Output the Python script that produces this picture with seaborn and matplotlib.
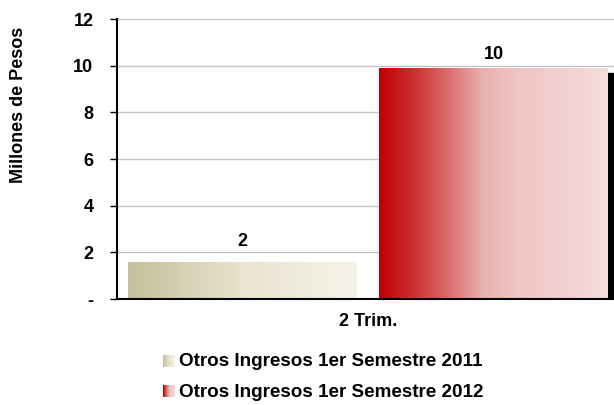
import numpy as np
import pandas as pd
import matplotlib
matplotlib.use('Agg')
import matplotlib.pyplot as plt
from matplotlib.colors import LinearSegmentedColormap
from matplotlib.patches import Rectangle
from matplotlib.legend_handler import HandlerBase
import seaborn as sns

sns.set_style('white')
plt.rcParams['font.family'] = ['Liberation Sans', 'DejaVu Sans']
plt.rcParams['font.weight'] = 'bold'
for key in ['text.color', 'axes.labelcolor', 'xtick.color', 'ytick.color']:
    plt.rcParams[key] = 'black'

# data
categories = ['2 Trim.']
series = ['Otros Ingresos 1er Semestre 2011', 'Otros Ingresos 1er Semestre 2012']
values = [1.6, 9.9]
yticks = [0, 2, 4, 6, 8, 10, 12]
ytick_labels = ['-', '2', '4', '6', '8', '10', '12']

cmaps = [
    LinearSegmentedColormap.from_list('beige', [(0, '#c5bf9b'), (0.5, '#e9e3cf'), (1, '#f5f2e8')]),
    LinearSegmentedColormap.from_list('red', [(0, '#c00000'), (0.15, '#cc3030'), (0.3, '#dc6c6c'),
                                              (0.45, '#eab0b0'), (0.6, '#f0c4c4'), (1, '#f5dcdd')]),
]

df = pd.DataFrame({'cat': categories * len(series), 'serie': series, 'val': values})

fig = plt.figure(figsize=(6.14, 4.05), dpi=100)
ax = fig.add_axes([117 / 614, 1 - 299 / 405, 502 / 614, 280 / 405])

sns.barplot(data=df, x='cat', y='val', hue='serie', ax=ax, width=1.0, gap=0.09,
            palette=['#c5bf9b', '#c00000'], legend=False, zorder=3)

bars = list(ax.patches)
grad = np.linspace(0, 1, 256).reshape(1, -1)
for i, (bar, cm) in enumerate(zip(bars, cmaps)):
    x0, y0 = bar.get_x(), bar.get_y()
    w, h = bar.get_width(), bar.get_height()
    if i == 1:
        # drop shadow
        ax.add_patch(Rectangle((x0 + 0.01, y0), w, h - 0.21, color='black', zorder=2))
    bar.set_facecolor('none')
    bar.set_edgecolor('none')
    im = ax.imshow(grad, cmap=cm, extent=(x0, x0 + w, y0, y0 + h), aspect='auto', zorder=3)
    im.set_clip_path(bar)
    ax.text(x0 + w / 2, round(values[i]) + 0.46, f'{values[i]:.0f}', ha='center', va='center',
            fontsize=13, fontweight='bold')

ax.set_xlim(-0.5, 0.5)
ax.set_ylim(0, 12)
ax.set_yticks(yticks)
ax.set_yticklabels(ytick_labels, fontsize=13, fontweight='bold')
ax.set_xticks([0])
ax.set_xticklabels(categories, fontsize=13, fontweight='bold')
ax.set_xticks([-0.5, 0.5], minor=True)
ax.tick_params(axis='x', which='major', length=0, pad=10)
ax.tick_params(axis='x', which='minor', length=4, width=1, color='black', direction='out')
ax.tick_params(axis='y', length=5, width=1, color='black', direction='out', pad=12, left=True)
ax.set_xlabel('')
ax.set_ylabel('')
fig.text(19 / 614, 1 - 105 / 405, 'Millones de Pesos', rotation=90, ha='center', va='center',
         fontsize=13, fontweight='bold')
ax.yaxis.grid(True, color='#c4c4c4', linewidth=1)
ax.set_axisbelow(True)
for s in ['top', 'right']:
    ax.spines[s].set_visible(False)
for s in ['left', 'bottom']:
    ax.spines[s].set_color('black')
    ax.spines[s].set_linewidth(1.5)
    ax.spines[s].set_zorder(5)


class GradientHandler(HandlerBase):
    def __init__(self, cmap):
        super().__init__()
        self.cmap = cmap

    def create_artists(self, legend, orig, xd, yd, width, height, fontsize, trans):
        n = 20
        arts = []
        for k in range(n):
            r = Rectangle((xd + width * k / n, yd), width / n + 0.1, height,
                          color=self.cmap(k / (n - 1)), transform=trans, linewidth=0)
            arts.append(r)
        return arts


handles = [Rectangle((0, 0), 1, 1) for _ in series]
fig.legend(handles, series, handler_map={h: GradientHandler(c) for h, c in zip(handles, cmaps)},
           loc='center left', bbox_to_anchor=(163 / 614, 1 - 377 / 405), frameon=False,
           borderpad=0, borderaxespad=0,
           prop={'size': 13.6, 'weight': 'bold'}, handlelength=0.65, handleheight=0.6,
           handletextpad=0.22, labelspacing=0.7)

fig.savefig('out.png', dpi=100)
